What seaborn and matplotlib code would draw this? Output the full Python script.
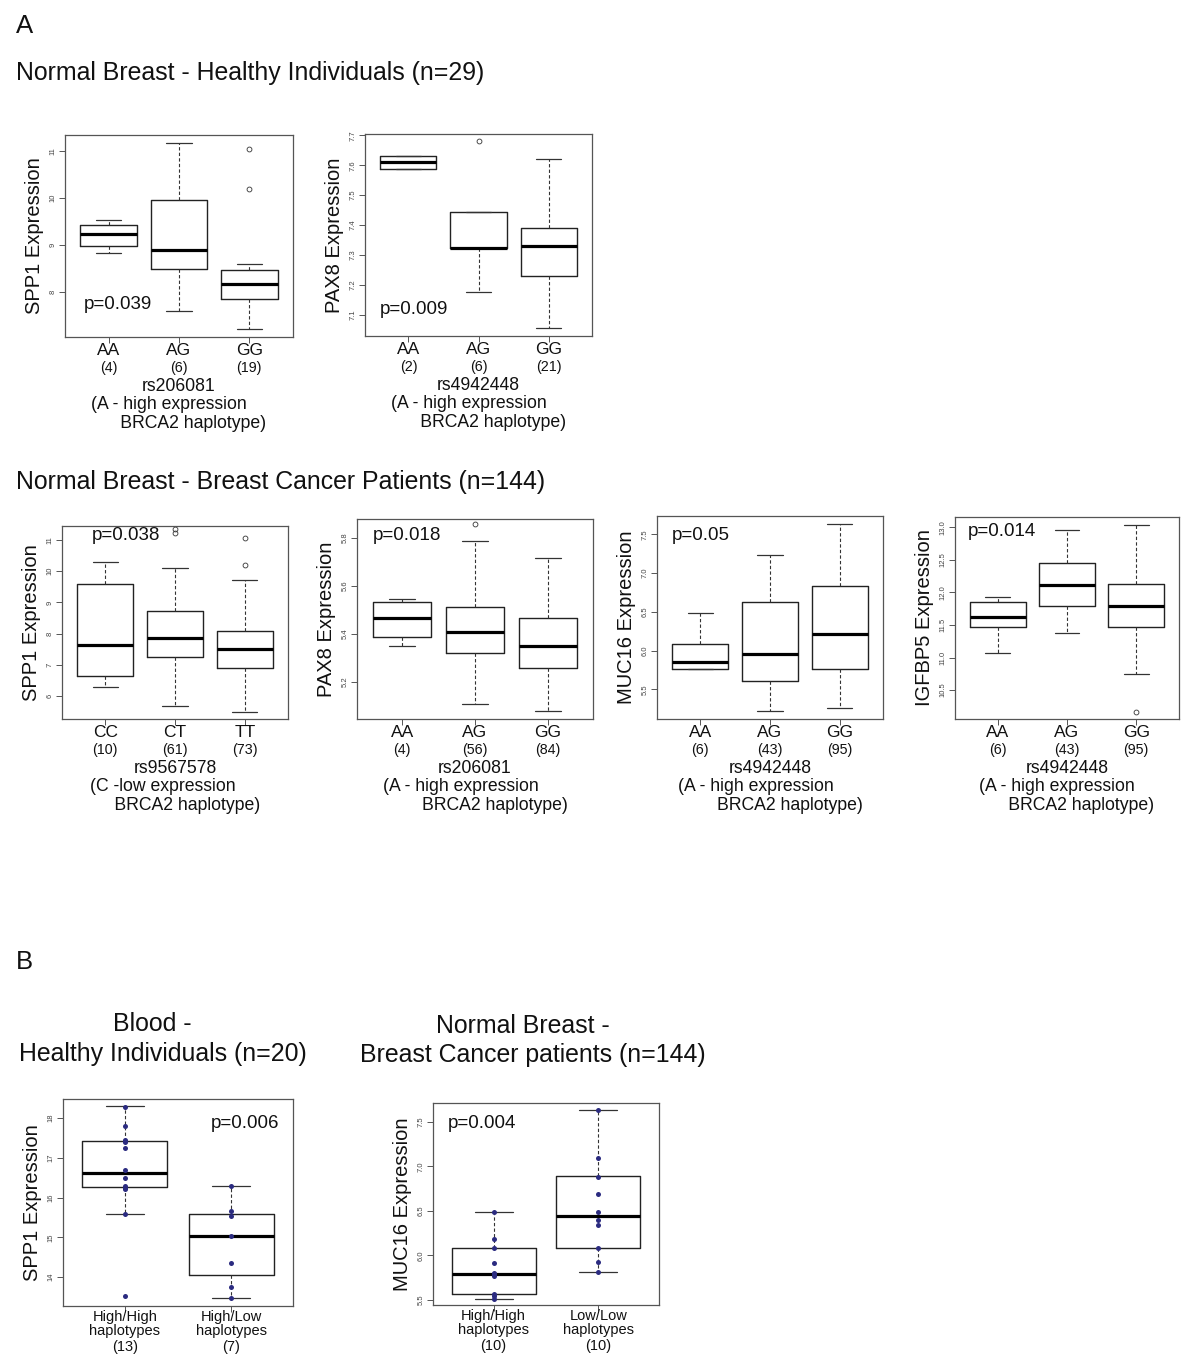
import numpy as np
import pandas as pd
import matplotlib
matplotlib.use("Agg")
import matplotlib.pyplot as plt
import seaborn as sns

sns.set_theme(style="white")
plt.rcParams["font.family"] = ["Liberation Sans", "DejaVu Sans"]
plt.rcParams["text.color"] = "#111111"

W, H = 1200, 1356

# box summaries: [whisker low, q1, median, q3, whisker high]
# A - normal breast, healthy individuals
spp1_h_cats = ["AA", "AG", "GG"]
spp1_h_n = [4, 6, 19]
spp1_h_box = [[8.84, 8.97, 9.235, 9.43, 9.53],
              [7.60, 8.49, 8.90, 9.95, 11.17],
              [7.21, 7.85, 8.18, 8.46, 8.60]]
spp1_h_out = [[], [], [11.03, 10.19]]

pax8_h_cats = ["AA", "AG", "GG"]
pax8_h_n = [2, 6, 21]
pax8_h_box = [[7.588, 7.588, 7.61, 7.632, 7.632],
              [7.174, 7.322, 7.324, 7.442, 7.442],
              [7.054, 7.228, 7.33, 7.391, 7.621]]
pax8_h_out = [[], [7.68], []]

# A - normal breast, breast cancer patients
spp1_c_cats = ["CC", "CT", "TT"]
spp1_c_n = [10, 61, 73]
spp1_c_box = [[6.29, 6.65, 7.62, 9.60, 10.28],
              [5.69, 7.24, 7.87, 8.71, 10.10],
              [5.50, 6.91, 7.51, 8.09, 9.71]]
spp1_c_out = [[], [11.35, 11.22], [11.06, 10.20]]

pax8_c_cats = ["AA", "AG", "GG"]
pax8_c_n = [4, 56, 84]
pax8_c_box = [[5.351, 5.387, 5.469, 5.532, 5.546],
              [5.110, 5.321, 5.407, 5.511, 5.789],
              [5.078, 5.258, 5.349, 5.467, 5.717]]
pax8_c_out = [[], [5.858], []]

muc16_c_cats = ["AA", "AG", "GG"]
muc16_c_n = [6, 43, 95]
muc16_c_box = [[5.767, 5.767, 5.857, 6.08, 6.48],
               [5.216, 5.608, 5.952, 6.631, 7.233],
               [5.255, 5.762, 6.214, 6.838, 7.629]]
muc16_c_out = [[], [], []]

igfbp5_c_cats = ["AA", "AG", "GG"]
igfbp5_c_n = [6, 43, 95]
igfbp5_c_box = [[11.077, 11.472, 11.626, 11.856, 11.923],
                [11.374, 11.785, 12.118, 12.451, 12.959],
                [10.744, 11.462, 11.785, 12.128, 13.041]]
igfbp5_c_out = [[], [], [10.164]]

# B - haplotype groups, individual points shown
spp1_b_cats = ["High/High", "High/Low"]
spp1_b_n = [13, 7]
spp1_b_box = [[15.58, 16.26, 16.605, 17.412, 18.294],
              [13.46, 14.05, 15.03, 15.59, 16.30]]
spp1_b_pts_hh = [18.29, 17.79, 17.44, 17.42, 17.40, 17.24, 16.70, 16.49,
                 16.30, 16.25, 16.21, 15.58, 13.53]
spp1_b_pts_hl = [16.30, 15.66, 15.54, 15.03, 14.34, 13.76, 13.46]

muc16_b_cats = ["High/High", "Low/Low"]
muc16_b_n = [10, 10]
muc16_b_box = [[5.511, 5.564, 5.789, 6.083, 6.485],
               [5.816, 6.079, 6.447, 6.887, 7.632]]
muc16_b_pts_hh = [6.485, 6.188, 6.086, 5.910, 5.805, 5.79, 5.767, 5.564, 5.541, 5.511]
muc16_b_pts_ll = [7.632, 7.098, 6.883, 6.688, 6.492, 6.402, 6.342, 6.079, 5.921, 5.816]

fig = plt.figure(figsize=(W / 100, H / 100), dpi=100)
fig.patch.set_facecolor("white")


def make_ax(x0, y0, x1, y1):
    return fig.add_axes([x0 / W, 1 - y1 / H, (x1 - x0) / W, (y1 - y0) / H])


def draw_box(ax, box, out, ylim, yticks, fmt, ylabel):
    n = len(box)
    stats = []
    for b, o in zip(box, out):
        stats.append(dict(whislo=b[0], q1=b[1], med=b[2], q3=b[3], whishi=b[4], fliers=o))
    ax.bxp(stats, positions=range(n), widths=0.8, capwidths=0.36,
           boxprops=dict(color="#222222", lw=1.0),
           medianprops=dict(color="black", lw=2.3),
           whiskerprops=dict(color="#333333", lw=0.8, ls=(0, (3, 2))),
           capprops=dict(color="#333333", lw=0.9),
           flierprops=dict(marker="o", mfc="none", mec="#333333", ms=3.5, mew=0.6))
    ax.set_xlim(-0.5 - 0.04 * n, n - 0.5 + 0.04 * n)
    ax.set_ylim(*ylim)
    ax.set_xticks(range(n), labels=[""] * n)
    ax.set_yticks(yticks, labels=[fmt % t for t in yticks])
    ax.tick_params(axis="both", direction="out", length=4, width=0.7,
                   color="#555555", labelsize=5.5, labelcolor="#444444",
                   left=True, bottom=True, pad=2)
    for lab in ax.get_yticklabels():
        lab.set_rotation(90)
        lab.set_va("center")
    for s in ax.spines.values():
        s.set_color("#555555")
        s.set_linewidth(0.9)
    wpx = ax.get_position().width * W
    ax.text(-30 / wpx, 0.5, ylabel, transform=ax.transAxes, rotation=90,
            ha="center", va="center", fontsize=14.5)
    ax.set_xlabel("")
    ax.set_ylabel("")


def xlabels_a(ax, cats, ns, snp, line2, indent):
    for i, (c, k) in enumerate(zip(cats, ns)):
        ax.annotate(c, xy=(i, 0), xycoords=("data", "axes fraction"), xytext=(0, -10),
                    textcoords="offset points", ha="center", va="center", fontsize=12.5)
        ax.annotate("(%d)" % k, xy=(i, 0), xycoords=("data", "axes fraction"), xytext=(0, -22.5),
                    textcoords="offset points", ha="center", va="center", fontsize=10.3)
    ax.annotate(snp, xy=(0.5, 0), xycoords="axes fraction", xytext=(0, -35.5),
                textcoords="offset points", ha="center", va="center", fontsize=12.7)
    ax.annotate(line2 + "\n" + " " * indent + "BRCA2 haplotype)", xy=(0.5, 0),
                xycoords="axes fraction", xytext=(0, -55.5), textcoords="offset points",
                ha="center", va="center", multialignment="left", fontsize=12.7,
                linespacing=1.15)


def xlabels_b(ax, cats, ns):
    for i, (c, k) in enumerate(zip(cats, ns)):
        ax.annotate(c, xy=(i, 0), xycoords=("data", "axes fraction"), xytext=(0, -8),
                    textcoords="offset points", ha="center", va="center", fontsize=10.5)
        ax.annotate("haplotypes", xy=(i, 0), xycoords=("data", "axes fraction"), xytext=(0, -18),
                    textcoords="offset points", ha="center", va="center", fontsize=10.5)
        ax.annotate("(%d)" % k, xy=(i, 0), xycoords=("data", "axes fraction"), xytext=(0, -29.5),
                    textcoords="offset points", ha="center", va="center", fontsize=10.5)


def pval(ax, txt, x, y):
    ax.text(x, y, txt, transform=ax.transAxes, ha="left", va="center", fontsize=13.5)


# headings
fig.text(16 / W, 1 - 33 / H, "A", fontsize=18.5, va="baseline")
fig.text(16 / W, 1 - 80 / H, "Normal Breast - Healthy Individuals (n=29)", fontsize=17.9, va="baseline")
fig.text(16 / W, 1 - 489 / H, "Normal Breast - Breast Cancer Patients (n=144)", fontsize=17.9, va="baseline")
fig.text(16 / W, 1 - 969 / H, "B", fontsize=18.5, va="baseline")
fig.text(152 / W, 1 - 1031 / H, "Blood -", fontsize=17.9, va="baseline", ha="center")
fig.text(163 / W, 1 - 1061 / H, "Healthy Individuals (n=20)", fontsize=17.9, va="baseline", ha="center")
fig.text(523 / W, 1 - 1033 / H, "Normal Breast -", fontsize=17.9, va="baseline", ha="center")
fig.text(533 / W, 1 - 1062 / H, "Breast Cancer patients (n=144)", fontsize=17.9, va="baseline", ha="center")

# row 1
ax = make_ax(65, 135, 293, 337)
draw_box(ax, spp1_h_box, spp1_h_out, (7.05, 11.33), [8, 9, 10, 11], "%d", "SPP1 Expression")
xlabels_a(ax, spp1_h_cats, spp1_h_n, "rs206081", "(A - high expression", 6)
pval(ax, "p=0.039", 0.083, 0.16)

ax = make_ax(365, 134, 592, 336)
draw_box(ax, pax8_h_box, pax8_h_out, (7.028, 7.705),
         [7.1, 7.2, 7.3, 7.4, 7.5, 7.6, 7.7], "%.1f", "PAX8 Expression")
xlabels_a(ax, pax8_h_cats, pax8_h_n, "rs4942448", "(A - high expression", 6)
pval(ax, "p=0.009", 0.066, 0.13)

# row 2
ax = make_ax(62, 526, 288, 719)
draw_box(ax, spp1_c_box, spp1_c_out, (5.26, 11.45), [6, 7, 8, 9, 10, 11], "%d", "SPP1 Expression")
xlabels_a(ax, spp1_c_cats, spp1_c_n, "rs9567578", "(C -low expression", 5)
pval(ax, "p=0.038", 0.133, 0.95)

ax = make_ax(357, 519, 593, 719)
draw_box(ax, pax8_c_box, pax8_c_out, (5.046, 5.88), [5.2, 5.4, 5.6, 5.8], "%.1f", "PAX8 Expression")
xlabels_a(ax, pax8_c_cats, pax8_c_n, "rs206081", "(A - high expression", 8)
pval(ax, "p=0.018", 0.068, 0.92)

ax = make_ax(657, 516, 883, 719)
draw_box(ax, muc16_c_box, muc16_c_out, (5.117, 7.737), [5.5, 6.0, 6.5, 7.0, 7.5], "%.1f", "MUC16 Expression")
xlabels_a(ax, muc16_c_cats, muc16_c_n, "rs4942448", "(A - high expression", 8)
pval(ax, "p=0.05", 0.066, 0.906)

ax = make_ax(955, 517, 1179, 719)
draw_box(ax, igfbp5_c_box, igfbp5_c_out, (10.056, 13.159),
         [10.5, 11.0, 11.5, 12.0, 12.5, 13.0], "%.1f", "IGFBP5 Expression")
xlabels_a(ax, igfbp5_c_cats, igfbp5_c_n, "rs4942448", "(A - high expression", 6)
pval(ax, "p=0.014", 0.058, 0.926)

# panel B with individual points
dot = "#2b2b80"

ax = make_ax(63, 1099, 293, 1306)
df = pd.DataFrame({"grp": [spp1_b_cats[0]] * len(spp1_b_pts_hh) + [spp1_b_cats[1]] * len(spp1_b_pts_hl),
                   "val": spp1_b_pts_hh + spp1_b_pts_hl})
sns.stripplot(data=df, x="grp", y="val", order=spp1_b_cats, jitter=False,
              color=dot, size=3.6, ax=ax, zorder=4)
draw_box(ax, spp1_b_box, [[], []], (13.27, 18.48), [14, 15, 16, 17, 18], "%d", "SPP1 Expression")
xlabels_b(ax, spp1_b_cats, spp1_b_n)
pval(ax, "p=0.006", 0.643, 0.884)

ax = make_ax(433, 1103, 659, 1305)
df = pd.DataFrame({"grp": [muc16_b_cats[0]] * len(muc16_b_pts_hh) + [muc16_b_cats[1]] * len(muc16_b_pts_ll),
                   "val": muc16_b_pts_hh + muc16_b_pts_ll})
sns.stripplot(data=df, x="grp", y="val", order=muc16_b_cats, jitter=False,
              color=dot, size=3.6, ax=ax, zorder=4)
draw_box(ax, muc16_b_box, [[], []], (5.44, 7.714), [5.5, 6.0, 6.5, 7.0, 7.5], "%.1f", "MUC16 Expression")
xlabels_b(ax, muc16_b_cats, muc16_b_n)
pval(ax, "p=0.004", 0.066, 0.90)

fig.savefig("out.png", dpi=100, facecolor="white")
